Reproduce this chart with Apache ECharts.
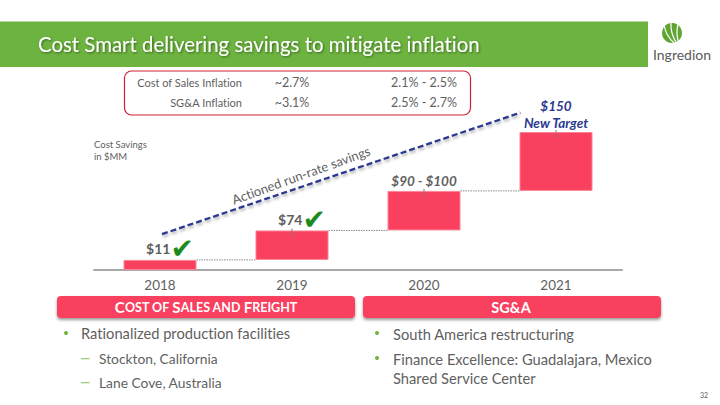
<!DOCTYPE html>
<html><head><meta charset="utf-8">
<style>html,body{margin:0;padding:0;background:#fff}#c{width:720px;height:405px}
svg text{font-variant-ligatures:none !important}</style>
<script src="https://cdn.jsdelivr.net/npm/echarts@6/dist/echarts.min.js"></script>
</head><body><div id="c"></div>
<script>
const categories = ['2018','2019','2020','2021'];
// bar extents as drawn in the picture (the slide is not strictly to scale)
const barBase = [0, 11, 43, 86];
const barRise = [11, 32, 43, 64];
const barLabels = ['$11','$74','$90 - $100','$150'];
const trendX = [0.015, 2.73];
const trendY = [39, 171];
const tableRows = [
  ['Cost of Sales Inflation','~2.7%','2.1% - 2.5%'],
  ['SG&A Inflation','~3.1%','2.5% - 2.7%']
];
const titleText = 'Cost Smart delivering savings to mitigate inflation';

const F = 'Lato, "Open Sans", sans-serif';
const GREY = '#5f5f5f', RED = '#f9405e', NAVY = '#2b3990', GREEN = '#70b23f';
const tops = barBase.map((b,i)=>b+barRise[i]);

const g = [];
function txt(x,y,text,size,opt){ opt=opt||{};
  g.push({type:'text',x:x,y:y,rotation:opt.rot||0,z:opt.z||10,style:Object.assign({
    text:text,fill:opt.fill||GREY,fontFamily:F,fontSize:size,fontWeight:opt.weight||'normal',
    textAlign:opt.align||'left',textVerticalAlign:'middle'},opt.style||{})});
}
// header band
g.push({type:'rect',shape:{x:0,y:21.5,width:648,height:45.5},style:{fill:'#6cb33f'},z:1});
txt(38,44,titleText,20.4,{fill:'#fff',style:{textShadowColor:'rgba(0,0,0,0.45)',textShadowBlur:2,textShadowOffsetX:1,textShadowOffsetY:1}});
// logo
g.push({type:'circle',z:5,shape:{cx:672,cy:33,r:10},style:{fill:'#5fa532'}});
[[[664,23],[667,34],[675,44]],[[671,22],[672,33],[677,44]],[[678,24],[677,34],[679,44]]].forEach(p=>{
  g.push({type:'polyline',z:6,shape:{points:p,smooth:0.5},style:{stroke:'#fff',lineWidth:1.2,fill:'none'}});
});
txt(682,54,'Ingredion',14,{align:'center',fill:'#5a5a5a'});
// inflation table
g.push({type:'rect',shape:{x:124.5,y:71,width:346,height:44,r:7},style:{fill:'#fff',stroke:'#cc2233',lineWidth:1.2},z:2});
const rowY=[82,102];
tableRows.forEach((r,i)=>{
  txt(242,rowY[i],r[0],11,{align:'right'});
  txt(292,rowY[i],r[1],12.5,{align:'center'});
  txt(457,rowY[i],r[2],12.5,{align:'right'});
});
// annotations
txt(94,144,'Cost Savings',9.5);
txt(94,156,'in $MM',9.5);
txt(301,175,'Actioned run-rate savings',13,{align:'center',rot:20*Math.PI/180,z:6});
// panels
[[57,'cos'],[363,'sga']].forEach(p=>{
  g.push({type:'rect',shape:{x:p[0],y:296,width:298,height:22,r:4},z:3,
    style:{fill:RED,shadowColor:'rgba(0,0,0,0.4)',shadowBlur:3,shadowOffsetY:2}});
});
g.push({type:'text',x:206,y:307,z:10,style:{text:'{a|C}{b|OST OF }{a|S}{b|ALES AND }{a|F}{b|REIGHT}',
  textAlign:'center',textVerticalAlign:'middle',fill:'#fff',
  rich:{a:{fontFamily:F,fontWeight:'bold',fontSize:15,fill:'#fff'},b:{fontFamily:F,fontWeight:'bold',fontSize:12.5,fill:'#fff'}}}});
txt(511,307,'SG&A',14.5,{align:'center',fill:'#fff',weight:'bold'});
// bullets
function dot(x,y){g.push({type:'circle',shape:{cx:x,cy:y,r:2},style:{fill:GREEN},z:5});}
function dash(x,y){g.push({type:'rect',shape:{x:x,y:y,width:8.5,height:1.3},style:{fill:'#9fce80'},z:5});}
dot(66,333); txt(81,333,'Rationalized production facilities',14.7);
dash(81,358); txt(99,358,'Stockton, California',13.8);
dash(81,382); txt(99,382,'Lane Cove, Australia',13.8);
dot(377,333); txt(393,334,'South America restructuring',14.7);
dot(377,358); txt(393,359,'Finance Excellence: Guadalajara, Mexico',14.7);
txt(393,378,'Shared Service Center',14.7);
txt(700,395,'32',7,{});

const option = {
  animation:false, backgroundColor:'#fff',
  grid:{left:94,width:528,top:86,height:184},
  xAxis:[
    {type:'category',data:categories,axisTick:{show:false},
     axisLine:{lineStyle:{color:'#a8a8a8',width:2}},
     axisLabel:{color:GREY,fontFamily:F,fontSize:13.5,margin:8}},
    {type:'value',min:-0.5,max:3.5,show:false}
  ],
  yAxis:{type:'value',min:0,max:200,show:false},
  series:[
    {type:'bar',stack:'w',data:barBase,barWidth:73,itemStyle:{color:'transparent'},silent:true,z:2},
    {type:'bar',stack:'w',barWidth:73,z:2,
     data:barRise.map((v,i)=>i<2?{value:v,label:{offset:[10,0]}}:v),
     itemStyle:{color:RED,borderColor:'#fb8496',borderWidth:1},
     label:{show:true,position:'top',distance:1,fontFamily:F,
       formatter:p=>{
         const i=p.dataIndex;
         if(i<2) return '{v|'+barLabels[i]+'}{c|✔}';
         if(i===2) return '{g|'+barLabels[i]+'}';
         return '{n|'+barLabels[i]+'}\n{n|New Target}';
       },
       rich:{
         v:{fontFamily:F,fontWeight:'bold',fontSize:14,color:GREY,verticalAlign:'middle'},
         c:{fontFamily:'DejaVu Sans',fontSize:28,color:'#1c8a1c',verticalAlign:'middle',lineHeight:20},
         g:{fontFamily:F,fontStyle:'italic',fontWeight:'bold',fontSize:13.5,color:GREY,lineHeight:17},
         n:{fontFamily:F,fontStyle:'italic',fontWeight:'bold',fontSize:13.5,color:NAVY,lineHeight:17}
       }}},
    {type:'custom',coordinateSystem:'cartesian2d',z:3,silent:true,
     data:tops.slice(0,3).map((t,i)=>[i,t]),
     renderItem:(p,api)=>{
       const i=api.value(0),t=api.value(1);
       const a=api.coord([i,t]),b=api.coord([i+1,t]);
       return {type:'line',shape:{x1:a[0]+36.5,y1:a[1],x2:b[0]-36.5,y2:b[1]},
         style:{stroke:'#8a8a8a',lineWidth:1,lineDash:[1.5,1]}};
     }},
    {type:'custom',coordinateSystem:'cartesian2d',z:4,silent:true,
     data:tops.slice(1).map((t,i)=>[i+1,t]),
     renderItem:(p,api)=>{
       const c=api.coord([api.value(0),api.value(1)]);
       return {type:'line',shape:{x1:c[0],y1:c[1]-2,x2:c[0],y2:c[1]+6},
         style:{stroke:'#8a7a80',lineWidth:1}};
     }},
    {type:'line',xAxisIndex:1,data:trendX.map((x,i)=>[x,trendY[i]]),symbol:'none',z:5,silent:true,
     lineStyle:{color:NAVY,width:2.3,type:[6,3],shadowColor:'rgba(0,0,0,0.35)',shadowBlur:3,shadowOffsetX:1,shadowOffsetY:2}}
  ],
  graphic:{elements:g}
};
echarts.init(document.getElementById('c'),null,{renderer:'svg'}).setOption(option);
</script></body></html>
